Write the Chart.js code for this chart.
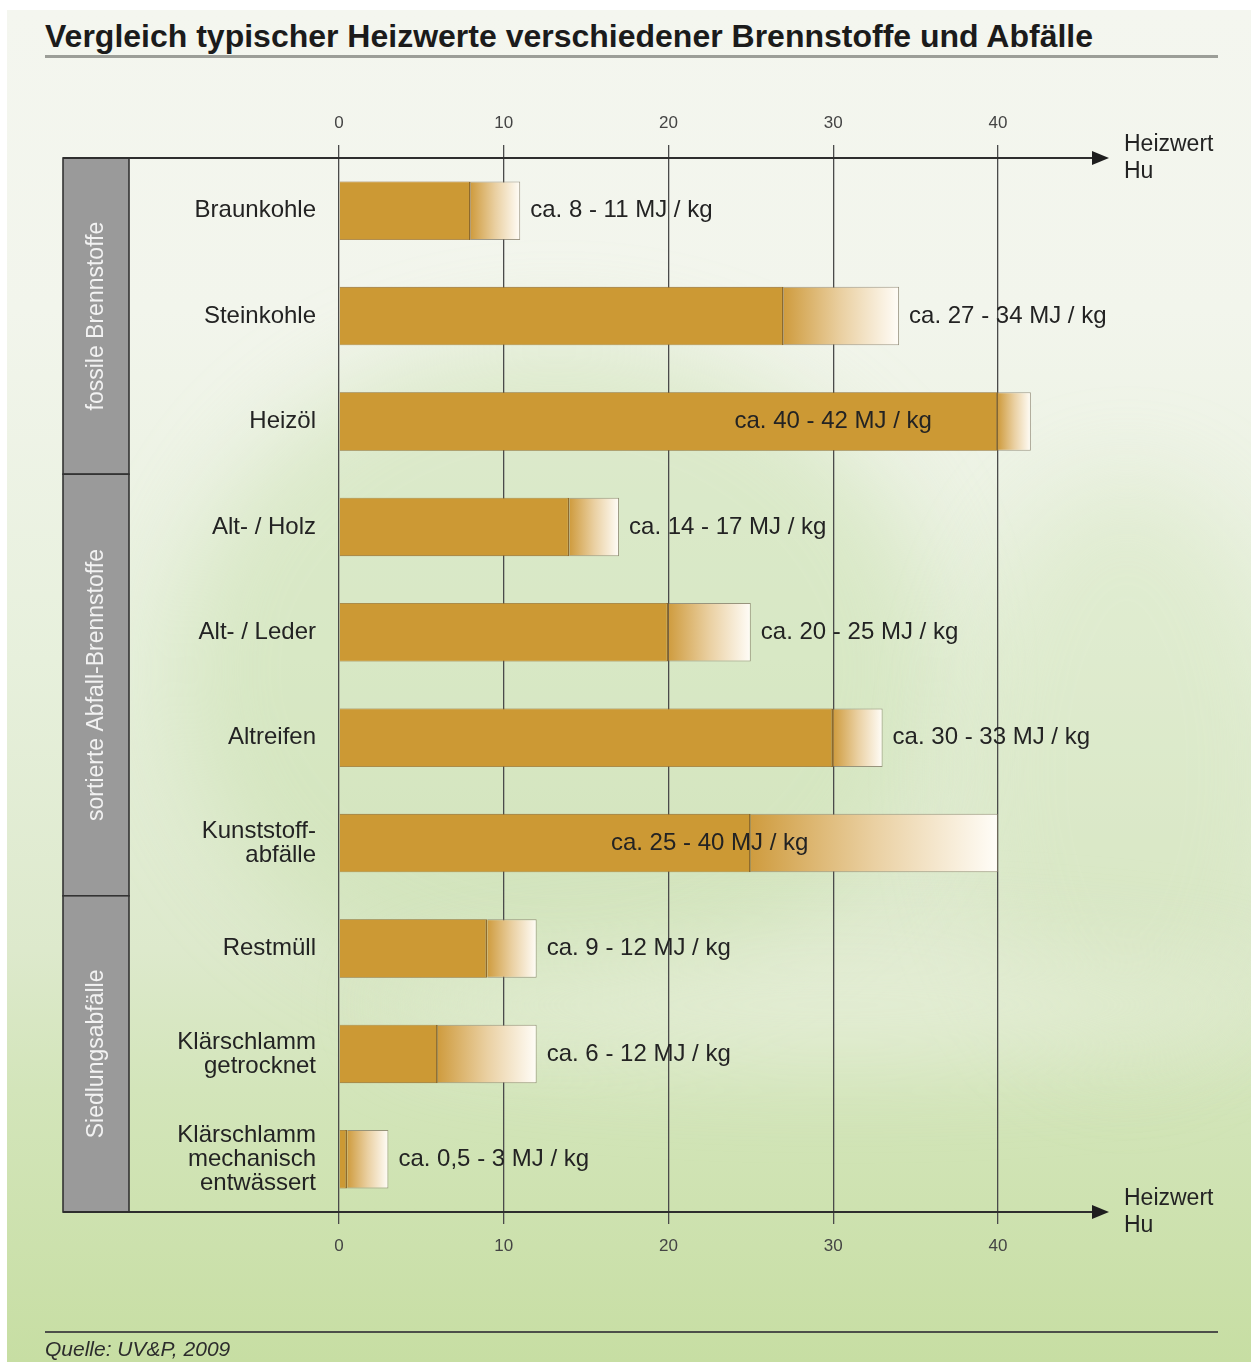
<!DOCTYPE html>
<html lang="de">
<head>
<meta charset="utf-8">
<title>Vergleich typischer Heizwerte verschiedener Brennstoffe und Abfälle</title>
<script src="https://cdn.jsdelivr.net/npm/chart.js@4.4.1/dist/chart.umd.min.js"></script>
<style>
  html, body { margin: 0; padding: 0; background: #ffffff; }
  body { width: 1251px; height: 1362px; position: relative; overflow: hidden;
         font-family: "Liberation Sans", Arial, sans-serif; }
  #card { position: absolute; left: 7px; top: 10px; right: 0; bottom: 0; overflow: hidden;
          background: linear-gradient(to bottom, #f4f6ef 0px, #f2f5ec 300px, #e7f0dc 650px,
                      #dde9cc 940px, #d3e5ba 1080px, #c7dea3 1352px); }
  .haze { position: absolute; border-radius: 50%; filter: blur(45px); }
  #chart { position: absolute; left: 0; top: 0; }
  h1 { position: absolute; left: 45px; top: 17px; margin: 0; font-size: 32px; line-height: 38px;
       font-weight: bold; color: #1b1b1b; white-space: nowrap; }
  #titleRule { position: absolute; left: 45px; top: 55px; width: 1173px; height: 3px; background: #9c9e98; }
  #footRule { position: absolute; left: 45px; top: 1331px; width: 1173px; height: 2px; background: #4d4f4a; }
  #source { position: absolute; left: 45px; top: 1337px; margin: 0; font-size: 21px; line-height: 24px;
            font-style: italic; color: #2c2c2c; white-space: nowrap; }
</style>
</head>
<body>
<div id="card">
  <div class="haze" style="left:170px;top:330px;width:760px;height:660px;background:rgba(198,221,168,0.45);"></div>
  <div class="haze" style="left:960px;top:470px;width:320px;height:580px;background:rgba(205,226,180,0.35);"></div>
  <div class="haze" style="left:380px;top:940px;width:900px;height:110px;background:rgba(236,243,226,0.55);"></div>
</div>
<h1>Vergleich typischer Heizwerte verschiedener Brennstoffe und Abfälle</h1>
<div id="titleRule"></div>
<canvas id="chart" width="1251" height="1362"></canvas>
<div id="footRule"></div>
<p id="source">Quelle: UV&amp;P, 2009</p>

<script>
// Fuels and waste types, lower and upper heating value (MJ/kg)
const categories = [
  ["Braunkohle"],
  ["Steinkohle"],
  ["Heizöl"],
  ["Alt- / Holz"],
  ["Alt- / Leder"],
  ["Altreifen"],
  ["Kunststoff-", "abfälle"],
  ["Restmüll"],
  ["Klärschlamm", "getrocknet"],
  ["Klärschlamm", "mechanisch", "entwässert"]
];
const lowValues  = [8, 27, 40, 14, 20, 30, 25, 9, 6, 0.5];
const highValues = [11, 34, 42, 17, 25, 33, 40, 12, 12, 3];

// Category groups shown in the grey side column
const groupNames = ["fossile Brennstoffe", "sortierte Abfall-Brennstoffe", "Siedlungsabfälle"];
const groupSizes = [3, 4, 3];

// Axis
const tickValues = [0, 10, 20, 30, 40];
const axisMax = 46.5;
const axisTitle = ["Heizwert", "Hu"];

const FONT = '"Liberation Sans", Arial, sans-serif';
const TEXT = '#232323';
const GRID = '#4a4a4a';

const fmt = v => String(v).replace('.', ',');
const rangeLabel = i => `ca. ${fmt(lowValues[i])} - ${fmt(highValues[i])} MJ / kg`;

// Fade from the bar colour to white across the range part of each bar
function rangeFill(ctx) {
  const chart = ctx.chart;
  const area = chart.chartArea;
  if (!area || ctx.type !== 'data') return '#e4c38a';
  const xs = chart.scales.x;
  const i = ctx.dataIndex;
  const x0 = xs.getPixelForValue(lowValues[i]);
  const x1 = xs.getPixelForValue(highValues[i]);
  const g = chart.ctx.createLinearGradient(x0, 0, x1, 0);
  g.addColorStop(0, '#cf9c3f');
  g.addColorStop(0.5, '#ead0a2');
  g.addColorStop(1, '#fffdf8');
  return g;
}

const fixTicks = scale => { scale.ticks = tickValues.map(v => ({ value: v })); };

// Group column, axis lines with arrows, axis titles and value labels
const decorations = {
  id: 'decorations',
  afterDatasetsDraw(chart) {
    const { ctx, chartArea, scales } = chart;
    const ys = scales.y, xs = scales.x;
    const colLeft = 63, colRight = 129;
    const top = chartArea.top, bottom = chartArea.bottom;
    const arrowTip = chartArea.right + 4;

    ctx.save();
    // grey group boxes
    let start = 0;
    groupSizes.forEach((n, g) => {
      const first = start, last = start + n - 1;
      const y0 = first === 0 ? top : (ys.getPixelForValue(first - 1) + ys.getPixelForValue(first)) / 2;
      const y1 = last === categories.length - 1 ? bottom : (ys.getPixelForValue(last) + ys.getPixelForValue(last + 1)) / 2;
      ctx.fillStyle = '#9a9a9a';
      ctx.fillRect(colLeft, y0, colRight - colLeft, y1 - y0);
      ctx.strokeStyle = '#333333';
      ctx.lineWidth = 1.6;
      ctx.strokeRect(colLeft, y0, colRight - colLeft, y1 - y0);
      ctx.save();
      ctx.translate((colLeft + colRight) / 2, (y0 + y1) / 2);
      ctx.rotate(-Math.PI / 2);
      ctx.fillStyle = '#f2f2f2';
      ctx.font = `23px ${FONT}`;
      ctx.textAlign = 'center';
      ctx.textBaseline = 'middle';
      ctx.fillText(groupNames[g], 0, 1);
      ctx.restore();
      start += n;
    });

    // horizontal axis lines with arrow heads, top and bottom
    [top, bottom].forEach(y => {
      ctx.strokeStyle = '#2e2e2e';
      ctx.lineWidth = 2;
      ctx.beginPath();
      ctx.moveTo(colLeft, y);
      ctx.lineTo(arrowTip - 10, y);
      ctx.stroke();
      ctx.fillStyle = '#1e1e1e';
      ctx.beginPath();
      ctx.moveTo(arrowTip, y);
      ctx.lineTo(arrowTip - 17, y - 7);
      ctx.lineTo(arrowTip - 17, y + 7);
      ctx.closePath();
      ctx.fill();

      ctx.fillStyle = TEXT;
      ctx.font = `23px ${FONT}`;
      ctx.textAlign = 'left';
      ctx.textBaseline = 'middle';
      ctx.fillText(axisTitle[0], arrowTip + 15, y - 13);
      ctx.fillText(axisTitle[1], arrowTip + 15, y + 14);
    });

    // range labels
    ctx.font = `24px ${FONT}`;
    ctx.fillStyle = TEXT;
    ctx.textBaseline = 'middle';
    categories.forEach((_, i) => {
      const text = rangeLabel(i);
      const w = ctx.measureText(text).width;
      const y = ys.getPixelForValue(i);
      const xEnd = xs.getPixelForValue(highValues[i]);
      if (xEnd + 10 + w <= chartArea.right + 14) {
        ctx.textAlign = 'left';
        ctx.fillText(text, xEnd + 10, y);
      } else {
        ctx.textAlign = 'center';
        ctx.fillText(text, xs.getPixelForValue(lowValues[i] / 2 + 10), y);
      }
    });
    ctx.restore();
  }
};

new Chart(document.getElementById('chart'), {
  type: 'bar',
  data: {
    labels: categories,
    datasets: [
      {
        label: 'Grundwert',
        data: lowValues.map(v => [0, v]),
        backgroundColor: '#cc9934',
        borderColor: '#8e6a2c',
        borderWidth: { top: 0.8, bottom: 0.8, left: 0, right: 1.8 },
        borderSkipped: false
      },
      {
        label: 'Bandbreite',
        data: lowValues.map((v, i) => [v, highValues[i]]),
        backgroundColor: rangeFill,
        borderColor: 'rgba(130,120,100,0.75)',
        borderWidth: { top: 1, bottom: 1, left: 0, right: 1 },
        borderSkipped: false
      }
    ]
  },
  options: {
    indexAxis: 'y',
    responsive: false,
    animation: false,
    devicePixelRatio: 1,
    layout: { padding: { left: 0, right: 146, top: 100, bottom: 100 } },
    datasets: { bar: { grouped: false, categoryPercentage: 1, barPercentage: 0.555 } },
    plugins: { legend: { display: false }, tooltip: { enabled: false }, title: { display: false } },
    scales: {
      y: {
        type: 'category',
        position: 'left',
        afterFit: s => { s.width = 339; },
        grid: { display: false, drawTicks: false },
        border: { display: false },
        ticks: { color: TEXT, padding: 23, font: { family: FONT, size: 24, lineHeight: 1.0 } }
      },
      x: {
        type: 'linear',
        position: 'bottom',
        min: 0,
        max: axisMax,
        afterBuildTicks: fixTicks,
        afterFit: s => { s.height = 50; },
        grid: { color: GRID, lineWidth: 1.3, drawTicks: true, tickLength: 12, tickColor: GRID },
        border: { display: false },
        ticks: { color: '#444', padding: 12, font: { family: FONT, size: 17 } }
      },
      x2: {
        type: 'linear',
        position: 'top',
        min: 0,
        max: axisMax,
        afterBuildTicks: fixTicks,
        afterFit: s => { s.height = 58; },
        grid: { drawOnChartArea: false, drawTicks: true, tickLength: 13, color: GRID, lineWidth: 1.3 },
        border: { display: false },
        ticks: { color: '#444', padding: 11, font: { family: FONT, size: 17 } }
      }
    }
  },
  plugins: [decorations]
});
</script>
</body>
</html>
